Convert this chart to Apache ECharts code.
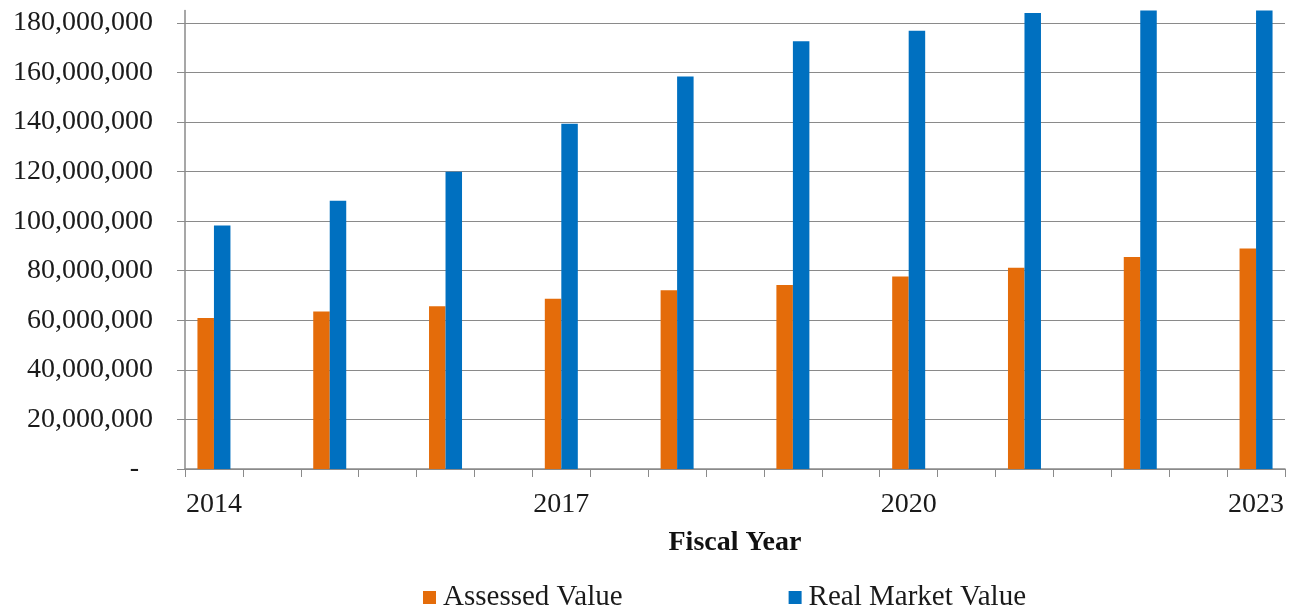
<!DOCTYPE html>
<html>
<head>
<meta charset="utf-8">
<script src="https://cdn.jsdelivr.net/npm/echarts@6/dist/echarts.min.js"></script>
<style>
  html, body { margin: 0; padding: 0; background: #fff; }
  #chart { width: 1294px; height: 610px; }
</style>
</head>
<body>
<div id="chart"></div>
<script>
// Fiscal years and values (dollars)
const years = [2014, 2015, 2016, 2017, 2018, 2019, 2020, 2021, 2022, 2023];
const assessedValue = [60900000, 63600000, 65700000, 68700000, 72100000, 74200000, 77700000, 81200000, 85500000, 89000000];
const realMarketValue = [98300000, 108200000, 119900000, 139300000, 158400000, 172600000, 176800000, 184000000, 191000000, 197000000];
const yTicks = [0, 20000000, 40000000, 60000000, 80000000, 100000000, 120000000, 140000000, 160000000, 180000000];

const serif = '"Liberation Serif", "Times New Roman", serif';
const gridGray = '#8a8a8a';

// the axis has half-year slots: a year, then an empty slot
const categories = [];
const assessedSlots = [];
const realSlots = [];
years.forEach((y, i) => {
    categories.push(String(y));
    assessedSlots.push(assessedValue[i]);
    realSlots.push(realMarketValue[i]);
    if (i < years.length - 1) {
        categories.push(y + '-half');
        assessedSlots.push('-');
        realSlots.push('-');
    }
});

const fmt = (v) => {
    if (v === 0) return '-  ';
    if (yTicks.indexOf(v) < 0) return '';
    return v.toLocaleString('en-US');
};

const chart = echarts.init(document.getElementById('chart'));

const option = {
    animation: false,
    color: ['#E46C0A', '#0070C0'],
    grid: {
        left: 185,
        right: 9,
        top: 10.5,
        bottom: 141,
        containLabel: false
    },
    legend: {
        left: 418,
        top: 578,
        icon: 'rect',
        itemWidth: 13,
        itemHeight: 13,
        itemGap: 166,
        textStyle: {
            fontFamily: serif,
            fontSize: 29,
            color: '#1a1a1a',
            padding: [0, 0, 0, 2]
        },
        data: ['Assessed Value', 'Real Market Value']
    },
    xAxis: {
        type: 'category',
        data: categories,
        name: 'Fiscal Year',
        nameLocation: 'middle',
        nameGap: 60,
        nameTextStyle: {
            fontFamily: serif,
            fontSize: 28,
            fontWeight: 'bold',
            color: '#111'
        },
        axisLine: { lineStyle: { color: gridGray, width: 1.5 } },
        axisTick: { show: true, interval: 0, length: 8, lineStyle: { color: gridGray } },
        axisLabel: {
            interval: 5,
            margin: 22,
            fontFamily: serif,
            fontSize: 28,
            color: '#1a1a1a'
        }
    },
    yAxis: {
        type: 'value',
        min: 0,
        max: 185000000,
        interval: 20000000,
        axisLine: { show: true, lineStyle: { color: gridGray, width: 1.5 } },
        axisTick: { show: true, length: 8, lineStyle: { color: gridGray } },
        axisLabel: {
            margin: 32,
            fontFamily: serif,
            fontSize: 28,
            color: '#1a1a1a',
            showMaxLabel: false,
            formatter: fmt
        },
        splitLine: {
            show: true,
            lineStyle: {
                color: [gridGray, gridGray, gridGray, gridGray, gridGray, gridGray, gridGray, gridGray, gridGray, gridGray, 'rgba(0,0,0,0)'],
                width: 1.2
            }
        }
    },
    series: [
        {
            name: 'Assessed Value',
            type: 'bar',
            barWidth: 16.5,
            barGap: '0%',
            clip: true,
            data: assessedSlots
        },
        {
            name: 'Real Market Value',
            type: 'bar',
            barWidth: 16.5,
            barGap: '0%',
            clip: true,
            data: realSlots
        }
    ]
};

chart.setOption(option);
</script>
</body>
</html>
